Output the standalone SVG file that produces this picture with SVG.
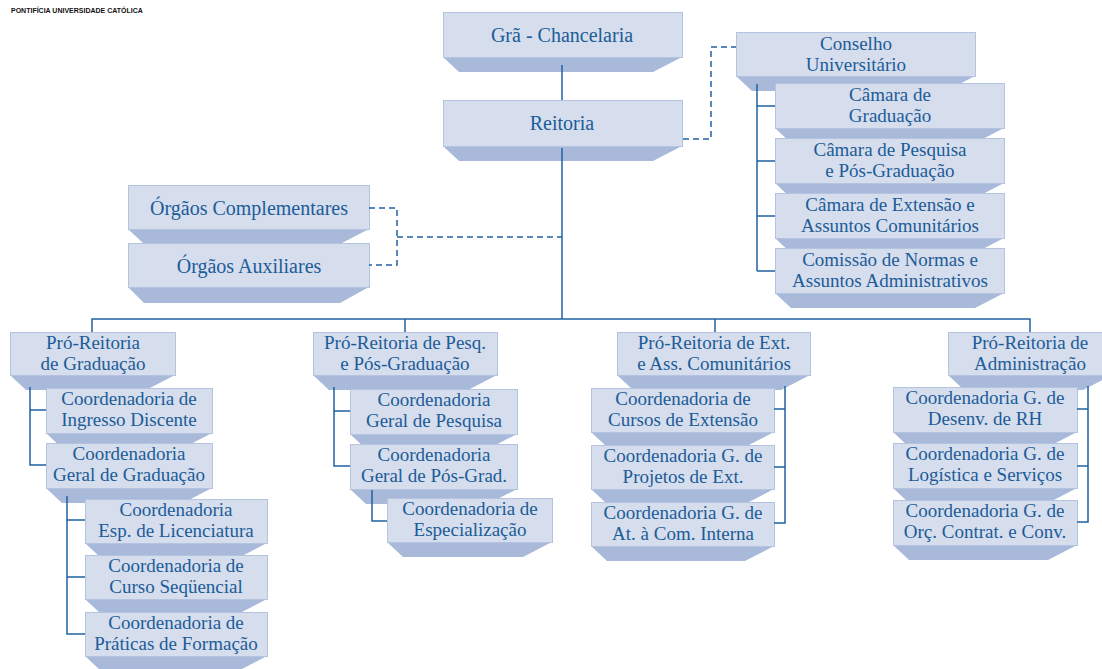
<svg xmlns="http://www.w3.org/2000/svg" width="1102" height="669" viewBox="0 0 1102 669">
<style>
.f{fill:#d6ddec;stroke:#b4c3df;stroke-width:1}
.b{fill:#a8b9d9}
.t{font-family:"Liberation Serif",serif;font-size:20px;fill:#1b5c99;text-anchor:middle}
.m{font-family:"Liberation Serif",serif;font-size:19px;fill:#1b5c99;text-anchor:middle}
.c{fill:none;stroke:#1f62a4;stroke-width:1.5}
.d{fill:none;stroke:#1f62a4;stroke-width:1.5;stroke-dasharray:6 4}
.h{font-family:"Liberation Sans",sans-serif;font-size:7px;font-weight:bold;fill:#111}
</style>
<rect width="1102" height="669" fill="#ffffff"/>
<text class="h" x="11" y="13">PONTIFÍCIA UNIVERSIDADE CATÓLICA</text>

<g id="gra"><polygon class="b" points="443,57 682,57 653,72 459,72"/><rect class="f" x="443.5" y="12.5" width="239" height="45"/><text class="t" x="562" y="42">Grã - Chancelaria</text></g>
<g id="reitoria"><polygon class="b" points="443,146 682,146 653,161 459,161"/><rect class="f" x="443.5" y="100.5" width="239" height="46"/><text class="t" x="562" y="130">Reitoria</text></g>

<g id="conselho"><polygon class="b" points="736,76 975,76 946,91 752,91"/><rect class="f" x="736.5" y="32.5" width="239" height="44"/><text class="m" x="856" y="50">Conselho<tspan x="856" dy="21">Universitário</tspan></text></g>
<g id="cam-grad"><polygon class="b" points="775,128 1004,128 975,143 791,143"/><rect class="f" x="775.5" y="83.5" width="229" height="45"/><text class="m" x="890" y="101">Câmara de<tspan x="890" dy="21">Graduação</tspan></text></g>
<g id="cam-pesq"><polygon class="b" points="775,183 1004,183 975,198 791,198"/><rect class="f" x="775.5" y="138.5" width="229" height="45"/><text class="m" x="890" y="156">Câmara de Pesquisa<tspan x="890" dy="21">e Pós-Graduação</tspan></text></g>
<g id="cam-ext"><polygon class="b" points="775,238 1004,238 975,253 791,253"/><rect class="f" x="775.5" y="193.5" width="229" height="45"/><text class="m" x="890" y="211">Câmara de Extensão e<tspan x="890" dy="21">Assuntos Comunitários</tspan></text></g>
<g id="comissao"><polygon class="b" points="775,293 1004,293 975,308 791,308"/><rect class="f" x="775.5" y="248.5" width="229" height="45"/><text class="m" x="890" y="266">Comissão de Normas e<tspan x="890" dy="21">Assuntos Administrativos</tspan></text></g>

<g id="org-comp"><polygon class="b" points="128,229 369,229 340,244 144,244"/><rect class="f" x="128.5" y="185.5" width="241" height="44"/><text class="t" x="249" y="215">Órgãos Complementares</text></g>
<g id="org-aux"><polygon class="b" points="128,287 369,287 340,303 144,303"/><rect class="f" x="128.5" y="243.5" width="241" height="44"/><text class="t" x="249" y="273">Órgãos Auxiliares</text></g>

<g id="pr-grad"><polygon class="b" points="10,375 175,375 146,390 26,390"/><rect class="f" x="10.5" y="332.5" width="165" height="43"/><text class="m" x="93" y="349">Pró-Reitoria<tspan x="93" dy="21">de Graduação</tspan></text></g>
<g id="c-ingresso"><polygon class="b" points="46,433 212,433 183,448 62,448"/><rect class="f" x="46.5" y="388.5" width="166" height="45"/><text class="m" x="129" y="405">Coordenadoria de<tspan x="129" dy="21">Ingresso Discente</tspan></text></g>
<g id="c-geral-grad"><polygon class="b" points="46,488 212,488 183,503 62,503"/><rect class="f" x="46.5" y="443.5" width="166" height="45"/><text class="m" x="129" y="460">Coordenadoria<tspan x="129" dy="21">Geral de Graduação</tspan></text></g>
<g id="c-esp-lic"><polygon class="b" points="85,543 267,543 238,558 101,558"/><rect class="f" x="85.5" y="499.5" width="182" height="44"/><text class="m" x="176" y="516">Coordenadoria<tspan x="176" dy="21">Esp. de Licenciatura</tspan></text></g>
<g id="c-curso-seq"><polygon class="b" points="85,599 267,599 238,614 101,614"/><rect class="f" x="85.5" y="555.5" width="182" height="44"/><text class="m" x="176" y="572">Coordenadoria de<tspan x="176" dy="21">Curso Seqüencial</tspan></text></g>
<g id="c-praticas"><polygon class="b" points="85,656 267,656 238,671 101,671"/><rect class="f" x="85.5" y="612.5" width="182" height="44"/><text class="m" x="176" y="629">Coordenadoria de<tspan x="176" dy="21">Práticas de Formação</tspan></text></g>

<g id="pr-pesq"><polygon class="b" points="313,375 497,375 468,390 329,390"/><rect class="f" x="313.5" y="332.5" width="184" height="43"/><text class="m" x="405" y="349">Pró-Reitoria de Pesq.<tspan x="405" dy="21">e Pós-Graduação</tspan></text></g>
<g id="c-geral-pesq"><polygon class="b" points="350,434 517,434 488,449 366,449"/><rect class="f" x="350.5" y="389.5" width="167" height="45"/><text class="m" x="434" y="406">Coordenadoria<tspan x="434" dy="21">Geral de Pesquisa</tspan></text></g>
<g id="c-geral-pos"><polygon class="b" points="350,489 517,489 488,504 366,504"/><rect class="f" x="350.5" y="444.5" width="167" height="45"/><text class="m" x="434" y="461">Coordenadoria<tspan x="434" dy="21">Geral de Pós-Grad.</tspan></text></g>
<g id="c-espec"><polygon class="b" points="387,542 552,542 523,557 403,557"/><rect class="f" x="387.5" y="498.5" width="165" height="44"/><text class="m" x="470" y="515">Coordenadoria de<tspan x="470" dy="21">Especialização</tspan></text></g>

<g id="pr-ext"><polygon class="b" points="617,375 810,375 781,390 633,390"/><rect class="f" x="617.5" y="332.5" width="193" height="43"/><text class="m" x="714" y="349">Pró-Reitoria de Ext.<tspan x="714" dy="21">e Ass. Comunitários</tspan></text></g>
<g id="c-cursos-ext"><polygon class="b" points="591,432 774,432 745,447 607,447"/><rect class="f" x="591.5" y="388.5" width="183" height="44"/><text class="m" x="683" y="405">Coordenadoria de<tspan x="683" dy="21">Cursos de Extensão</tspan></text></g>
<g id="c-proj-ext"><polygon class="b" points="591,489 774,489 745,504 607,504"/><rect class="f" x="591.5" y="445.5" width="183" height="44"/><text class="m" x="683" y="462">Coordenadoria G. de<tspan x="683" dy="21">Projetos de Ext.</tspan></text></g>
<g id="c-at-com"><polygon class="b" points="591,546 774,546 745,561 607,561"/><rect class="f" x="591.5" y="502.5" width="183" height="44"/><text class="m" x="683" y="519">Coordenadoria G. de<tspan x="683" dy="21">At. à Com. Interna</tspan></text></g>

<g id="pr-adm"><polygon class="b" points="948,375 1112,375 1083,390 964,390"/><rect class="f" x="948.5" y="332.5" width="164" height="43"/><text class="m" x="1030" y="349">Pró-Reitoria de<tspan x="1030" dy="21">Administração</tspan></text></g>
<g id="c-rh"><polygon class="b" points="893,432 1077,432 1048,447 909,447"/><rect class="f" x="893.5" y="387.5" width="184" height="45"/><text class="m" x="985" y="404">Coordenadoria G. de<tspan x="985" dy="21">Desenv. de RH</tspan></text></g>
<g id="c-log"><polygon class="b" points="893,488 1077,488 1048,503 909,503"/><rect class="f" x="893.5" y="443.5" width="184" height="45"/><text class="m" x="985" y="460">Coordenadoria G. de<tspan x="985" dy="21">Logística e Serviços</tspan></text></g>
<g id="c-orc"><polygon class="b" points="893,545 1077,545 1048,560 909,560"/><rect class="f" x="893.5" y="500.5" width="184" height="45"/><text class="m" x="985" y="517">Coordenadoria G. de<tspan x="985" dy="21">Orç. Contrat. e Conv.</tspan></text></g>

<g id="connectors">
<path class="c" d="M562,65 V100"/>
<path class="c" d="M562,148 V319"/>
<path class="c" d="M92,332 V319 H1030 V332"/>
<path class="c" d="M405,319 V332"/>
<path class="c" d="M715,319 V332"/>
<path class="d" d="M683,139 H711 V47 H736"/>
<path class="d" d="M369,208 H397 V265 H369"/>
<path class="d" d="M397,237 H562"/>
<path class="c" d="M757,84 V271 M757,106 H775 M757,161 H775 M757,216 H775 M757,271 H775"/>
<path class="c" d="M30,387 V465 H46 M30,410 H46"/>
<path class="c" d="M67,496 V634 H85 M67,520 H85 M67,577 H85"/>
<path class="c" d="M334,387 V466 H350 M334,411 H350"/>
<path class="c" d="M372,490 V521 H387"/>
<path class="c" d="M785,386 V523 H774 M785,409 H774 M785,467 H774"/>
<path class="c" d="M1088,386 V522 H1077 M1088,409 H1077 M1088,466 H1077"/>
</g>
</svg>
